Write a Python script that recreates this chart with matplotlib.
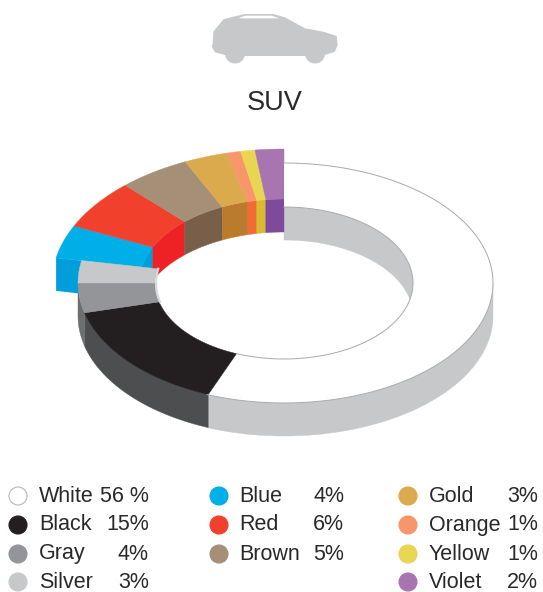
import numpy as np
import matplotlib
matplotlib.use('Agg')
import matplotlib.pyplot as plt
from matplotlib.patches import Ellipse, Circle

names = ['White', 'Black', 'Gray', 'Silver', 'Blue', 'Red', 'Brown', 'Gold', 'Orange', 'Yellow', 'Violet']
shares = [56, 15, 4, 3, 4, 6, 5, 3, 1, 1, 2]
share_labels = ['56 %', '15%', '4%', '3%', '4%', '6%', '5%', '3%', '1%', '1%', '2%']
top_colors = ['#ffffff', '#231f20', '#939598', '#c7c8ca', '#00aee8', '#f1412d', '#a68f77',
              '#daaa4c', '#f7966b', '#e8d552', '#a875b0']
wall_colors = ['#c7c8ca', '#4d4e50', '#6d6e70', '#a7a9ac', '#009edb', '#ee2224', '#785f4a',
               '#bb7b2c', '#f26a36', '#d8bc2f', '#7f4a9b']
raised = [False, False, False, False, True, True, True, True, True, True, True]

plt.rcParams['font.family'] = ['Liberation Sans', 'DejaVu Sans']

CX, CY = 284, 283
DEPTH = 33
FLAT = (209, 120, 129, 76)     # outer rx, ry, inner rx, ry
LEFT = (206, 120, 129, 76)     # black, gray, silver sit a little further in
UP = (232, 134, 145, 84)       # the pulled out slices
TEXT = '#2b2829'

fig = plt.figure(figsize=(5.43, 5.92), dpi=100)
ax = fig.add_axes([0, 0, 1, 1])
ax.set_xlim(0, 543)
ax.set_ylim(592, 0)
ax.axis('off')


def arc(rx, ry, a0, a1, drop=0):
    # angles in degrees, clockwise from 12 o'clock
    t = np.radians(np.linspace(a0, a1, max(int(abs(a1 - a0) * 2), 2)))
    return CX + rx * np.sin(t), CY - ry * np.cos(t) + drop


def band(rx, ry, a0, a1, color, z):
    x, y = arc(rx, ry, a0, a1)
    x2, y2 = arc(rx, ry, a1, a0, DEPTH)
    return ax.fill(np.r_[x, x2], np.r_[y, y2], color=color, lw=0.3, zorder=z)


ends = np.cumsum(shares) * 3.6
starts = ends - np.array(shares) * 3.6

# inner wall seen through the hole
hole = Ellipse((CX, CY), 2 * FLAT[2], 2 * FLAT[3], transform=ax.transData)
far = band(FLAT[2], FLAT[3], 0, 90, wall_colors[0], 1)
far[0].set_clip_path(hole)

# walls of the flat part
for i in range(4):
    a0, a1 = max(starts[i], 90), min(ends[i], 270)
    if a1 > a0:
        band((FLAT if i == 0 else LEFT)[0], FLAT[1], a0, a1, wall_colors[i], 2)

# pulled out slices
for i in range(4, 11):
    if i == 4:
        # cut face on the left end of blue
        a = starts[i]
        x0, y0 = arc(UP[0], UP[1], a, a + 1)
        x1, y1 = arc(UP[2], UP[3], a, a + 1)
        ax.fill([x0[0], x1[0], x1[0], x0[0]], [y0[0], y1[0], y1[0] + DEPTH, y0[0] + DEPTH],
                color=wall_colors[i], lw=0, zorder=3)
    band(UP[2], UP[3], starts[i], ends[i], wall_colors[i], 3)

for i in range(11):
    r = UP if raised[i] else (FLAT if i == 0 else LEFT)
    x, y = arc(r[0], r[1], starts[i], ends[i])
    x2, y2 = arc(r[2], r[3], ends[i], starts[i])
    if i == 0:
        ax.fill(np.r_[x, x2], np.r_[y, y2], facecolor=top_colors[i], edgecolor='none', zorder=5)
        ax.plot(x, y, color='#a7a9ac', lw=0.7, zorder=6)
        ax.plot(x2, y2, color='#a7a9ac', lw=0.7, zorder=6)
    else:
        z = 4 if raised[i] else 5
        ax.fill(np.r_[x, x2], np.r_[y, y2], color=top_colors[i], lw=0.3, zorder=z)

# light rim on the inside of gray and silver
x, y = arc(FLAT[2] - 1, FLAT[3], starts[2], ends[3])
ax.plot(x, y, color='#d8d9da', lw=1.6, zorder=6)

# car icon
car_x = [68, 70, 100, 130, 165, 250, 285, 345, 400, 440, 443, 435, 405, 345, 165, 105, 75, 65]
car_y = [130, 95, 58, 50, 42, 42, 52, 85, 95, 108, 135, 155, 165, 168, 168, 165, 157, 140]
ax.fill(190 + np.array(car_x) / 3, np.array(car_y) / 3, color='#c7c8ca', lw=0)
for wx in [135, 375]:
    ax.add_patch(Circle((190 + wx / 3, 53.5), 10, color='#c7c8ca', lw=0))
ax.fill(190 + np.array([145, 165, 245, 268]) / 3, np.array([55, 47, 47, 55]) / 3, color='#ffffff', lw=0)

ax.text(275, 103, 'SUV', fontsize=19.5, color=TEXT, ha='center', va='center')

# legend
col_circle = [18, 219, 408]
col_name = [39, 239, 429]
col_pct = [149, 344, 538]
row_y = [496, 525, 554, 582]
legend_pos = [(0, 0), (0, 1), (0, 2), (0, 3), (1, 0), (1, 1), (1, 2), (2, 0), (2, 1), (2, 2), (2, 3)]
for i, (c, r) in enumerate(legend_pos):
    edge = '#b5b6b8' if i == 0 else top_colors[i]
    ax.add_patch(Circle((col_circle[c], row_y[r]), 9, facecolor=top_colors[i], edgecolor=edge, lw=0.8))
    ax.text(col_name[c], row_y[r] + 5.5, names[i], fontsize=15.5, color=TEXT, va='baseline')
    ax.text(col_pct[c], row_y[r] + 5.5, share_labels[i], fontsize=15.5, color=TEXT, va='baseline', ha='right')

fig.savefig('out.png', dpi=100)
